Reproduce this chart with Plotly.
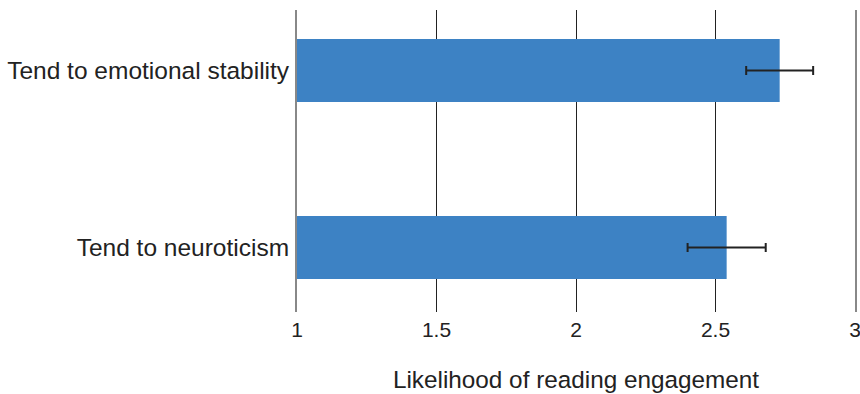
import plotly.graph_objects as go

# Personality tendency vs. likelihood of reading engagement
categories = ["Tend to neuroticism", "Tend to emotional stability"]
means = [2.54, 2.73]
errors = [0.14, 0.12]
x_ticks = [1, 1.5, 2, 2.5, 3]
x_tick_labels = ["1", "1.5", "2", "2.5", "3"]

FONT = "Liberation Sans, Arial, Helvetica, sans-serif"

fig = go.Figure(
    go.Bar(
        y=categories,
        x=[m - 1 for m in means],
        base=1,
        orientation="h",
        width=0.356,
        marker=dict(color="#3d82c4", line=dict(width=0)),
        error_x=dict(type="data", array=errors, color="#222222", thickness=2, width=4.5),
        hoverinfo="skip",
    )
)

fig.update_layout(
    width=860,
    height=394,
    margin=dict(l=297, r=5, t=10, b=82),
    paper_bgcolor="white",
    plot_bgcolor="white",
    showlegend=False,
    font=dict(family=FONT, size=22, color="#222222"),
    xaxis=dict(
        range=[1, 3],
        tickvals=x_ticks,
        ticktext=x_tick_labels,
        showgrid=True,
        gridcolor="#222222",
        gridwidth=1,
        zeroline=False,
        showline=False,
        ticks="",
        automargin=False,
        ticklabeloverflow="allow",
        tickfont=dict(size=21),
        ticklabelstandoff=3,
        title=dict(text="Likelihood of reading engagement", font=dict(size=24.3), standoff=30),
    ),
    yaxis=dict(
        range=[-0.364, 1.342],
        showgrid=False,
        zeroline=False,
        showline=True,
        mirror=True,
        linecolor="#888888",
        linewidth=2,
        ticks="",
        automargin=False,
        ticklabelstandoff=1,
        tickfont=dict(size=24.5),
    ),
)

fig.write_html("out.html")
